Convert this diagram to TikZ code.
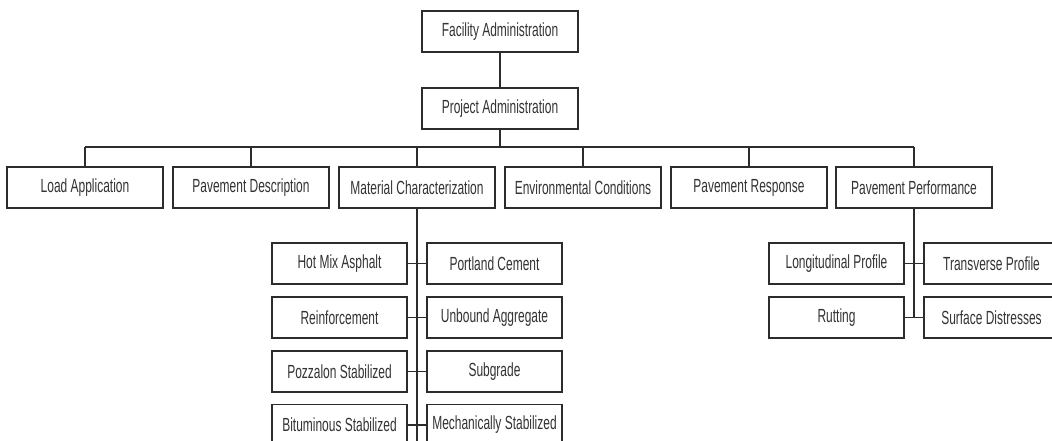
\documentclass[tikz,border=0pt]{standalone}
\usepackage{fontspec}
\setmainfont[FakeStretch=0.63]{Liberation Sans}
\begin{document}
\begin{tikzpicture}[x=1pt,y=-1pt,
  box/.style={draw=linegray, line width=1.6pt, fill=white, inner sep=0pt,
    minimum height=41pt, text=textgray,
    font=\fontsize{19}{22}\selectfont},
  widebox/.style={box, minimum width=156pt},
  smallbox/.style={box, minimum width=135pt},
  link/.style={draw=linegray, line width=1.6pt}]
\definecolor{linegray}{HTML}{2C2C2C}
\definecolor{textgray}{HTML}{333333}
\useasboundingbox (0,0) rectangle (1052,441);
\clip (0,0) rectangle (1052,441);

% top of the hierarchy
\node[widebox] (fa) at (500,31.5) {Facility Administration};
\node[widebox] (pa) at (500,108.5) {Project Administration};
\coordinate (bus) at (500,147);

% first level modules
\node[widebox] (la) at (85,187.5)  {Load Application};
\node[widebox] (pd) at (251,187.5) {Pavement Description};
\node[widebox] (mc) at (417,187.5) {Material Characterization};
\node[widebox] (ec) at (583,187.5) {Environmental Conditions};
\node[widebox] (pr) at (749,187.5) {Pavement Response};
\node[widebox] (pp) at (914,187.5) {Pavement Performance};

\draw[link] (fa) -- (pa);
\draw[link] (pa) -- (bus);
\draw[link] (la.north |- bus) -- (pp.north |- bus);
\foreach \n in {la,pd,mc,ec,pr,pp}
  \draw[link] (\n.north) -- (\n.north |- bus);

% material characterization branch
\coordinate (mcend) at (417,450);
\draw[link] (mc.south) -- (mcend);
\node[smallbox] (hma) at (339.5,263.5) {Hot Mix Asphalt};
\node[smallbox] (pcc) at (494.5,263.5) {Portland Cement};
\node[smallbox] (rf)  at (339.5,317.5) {Reinforcement};
\node[smallbox] (ua)  at (494.5,317.5) {Unbound Aggregate};
\node[smallbox] (pz)  at (339.5,371.5) {Pozzalon Stabilized};
\node[smallbox] (sg)  at (494.5,371.5) {Subgrade};
\node[smallbox] (bs)  at (339.5,425)   {Bituminous Stabilized};
\node[smallbox] (ms)  at (494.5,425)   {Mechanically Stabilized};
\draw[link] (hma.east) -- (pcc.west);
\draw[link] (rf.east) -- (ua.west);
\draw[link] (pz.east) -- (sg.west);
\draw[link] (bs.east) -- (ms.west);

% pavement performance branch
\node[smallbox] (lp) at (836.5,263.5) {Longitudinal Profile};
\node[smallbox] (tp) at (991.5,263.5) {Transverse Profile};
\node[smallbox] (ru) at (836.5,317.5) {Rutting};
\node[smallbox] (sd) at (991.5,317.5) {Surface Distresses};
\draw[link] (pp.south) -- (pp.south |- ru.east);
\draw[link] (lp.east) -- (tp.west);
\draw[link] (ru.east) -- (sd.west);
\end{tikzpicture}
\end{document}
